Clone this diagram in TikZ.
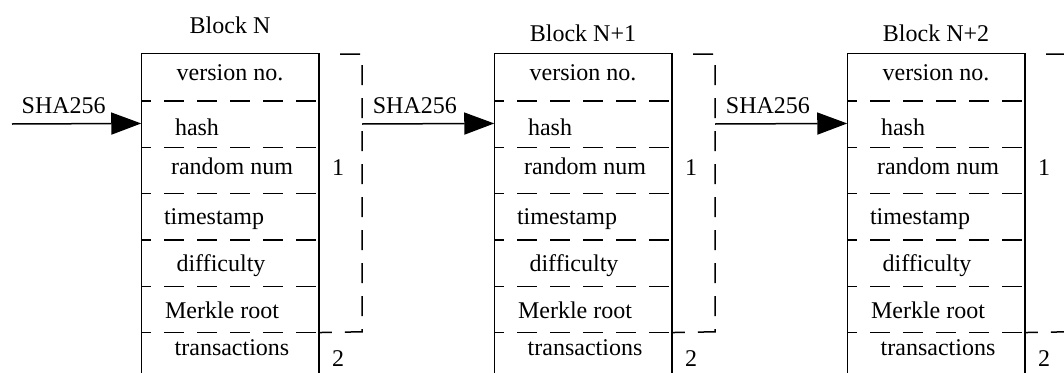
\documentclass[tikz,border=0pt]{standalone}
\usepackage{fontspec}
\setmainfont{Liberation Serif}
\usetikzlibrary{arrows.meta}
\usetikzlibrary{positioning}

\begin{document}
\begin{tikzpicture}
[x=1pt,y=-1pt,line width=1.5pt,>={Triangle[length=30pt,width=22pt]},%
  cell/.style={minimum width=176pt,minimum height=46.3pt,inner sep=0pt},
  field/.style={inner sep=0pt,font=\fontsize{24}{28}\selectfont},
  sepline/.style={line width=1.5pt,dash pattern=on 20pt off 13pt,dash phase=10pt},
  bracket/.style={line width=1.5pt,dash pattern=on 20pt off 13pt}]
\useasboundingbox (0,0) rectangle (1064,372);
%% blocks
\foreach \k/\x/\name/\ty in {0/142/N/25, 1/495/N+1/33, 2/848/N+2/33} {
  \coordinate (blk\k) at (\x,54);
  \node[field] (title\k) at (\x+88,\ty) {Block \name};
  \foreach \f/\dx/\dy [count=\i] in {version no./0/-4, hash/-33/4,
      random num/2/-3, timestamp/-16/3, difficulty/-9/3,
      Merkle root/-8/2, transactions/2/-7} {
    \node[cell] (c\k-\i) at (\x+88,54+46.3*\i-23.15) {};
    \node[field] (t\k-\i) at ([xshift=\dx pt,yshift=-\dy pt]c\k-\i.center) {\f};
  }
  %% frame and separators
  \draw (c\k-7.south west) -- (c\k-1.north west) -- (c\k-1.north east)
    -- (c\k-7.south east);
  \foreach \i in {1,...,6}
    \draw[sepline] (c\k-\i.south west) -- (c\k-\i.south east);
  %% part numbers and bracket
  \node[field] (one\k) at (\x+196,168) {1};
  \node[field] (two\k) at (\x+196,359) {2};
  \coordinate (out\k) at (\x+220,124);
  \draw[bracket] (\x+198,54) -- (\x+220,54) -- (\x+220,331.8)
    -- (c\k-6.south east);
}
%% hash links
\coordinate (src) at (12,124);
\path[->]
(src) edge node[field,above=9pt,pos=0.4] {SHA256} (c0-2.west)
(out0) edge node[field,above=9pt,pos=0.4] {SHA256} (c1-2.west)
(out1) edge node[field,above=9pt,pos=0.4] {SHA256} (c2-2.west);
\end{tikzpicture}
\end{document}
